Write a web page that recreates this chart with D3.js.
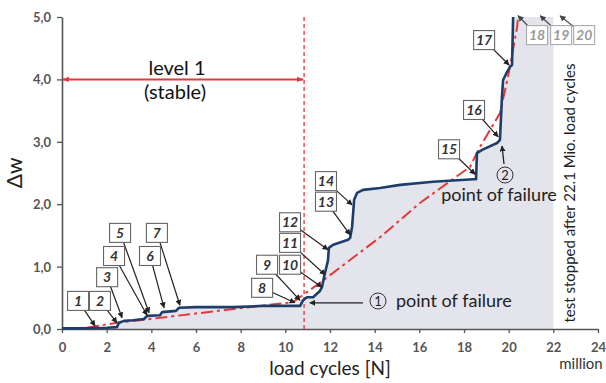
<!DOCTYPE html>
<html>
<head>
<meta charset="utf-8">
<script src="https://cdn.jsdelivr.net/npm/d3@7/dist/d3.min.js"></script>
<style>
  html, body { margin: 0; padding: 0; background: #fff; }
  svg { display: block; }
  text { font-family: Lato, "Open Sans", sans-serif; }
</style>
</head>
<body>
<svg id="chart" width="606" height="383"></svg>
<script>
// ---- data ----
const xTicks = [0, 2, 4, 6, 8, 10, 12, 14, 16, 18, 20, 22, 24];
const yTicks = [0, 1, 2, 3, 4, 5];
const yTickLabels = ["0,0", "1,0", "2,0", "3,0", "4,0", "5,0"];

// measured deformation curve (million cycles, Δw)
const curveX = [0, 1.03, 2.02, 2.46, 2.55, 2.78, 3.18, 3.67, 3.81, 4.39, 4.48, 5.10, 5.24, 6.0, 7.66, 9.0, 10.66, 10.79, 10.97, 11.24, 11.55, 11.64, 11.73, 11.91, 11.95, 12.14, 12.81, 12.9, 12.99, 13.08, 13.21, 13.48, 14.24, 15.14, 16.61, 18.41, 18.54, 18.58, 18.81, 19.48, 19.61, 19.70, 19.75, 19.93, 20.06, 20.15, 20.2];
const curveY = [0.01, 0.01, 0.02, 0.03, 0.10, 0.13, 0.14, 0.16, 0.21, 0.22, 0.27, 0.29, 0.34, 0.35, 0.35, 0.37, 0.37, 0.46, 0.51, 0.51, 0.61, 0.67, 0.83, 1.10, 1.30, 1.35, 1.43, 1.46, 1.64, 2.07, 2.18, 2.23, 2.26, 2.31, 2.36, 2.40, 2.40, 2.82, 2.87, 2.98, 3.03, 3.72, 3.99, 4.12, 4.20, 4.23, 5.0];

// red dash-dot trend line
const trendX = [1.12, 2.46, 3.94, 7.66, 10.34, 11.55, 12.32, 14.24, 16.03, 18.27, 18.72, 19.61, 19.97, 20.38, 20.42];
const trendY = [0.02, 0.10, 0.16, 0.32, 0.43, 0.74, 0.95, 1.47, 2.02, 2.60, 2.92, 3.46, 4.04, 4.84, 5.0];

const testEnd = 22;        // test stopped (shaded region end)
const level1End = 10.84;   // end of level 1 (red dashed line)
const level1Y = 4.0;

// numbered load-step annotations: label, box (x,y), arrow tip (x,y) in data units
const stepLabels = ["1","2","3","4","5","6","7","8","9","10","11","12","13","14","15","16","17","18","19","20"];
const stepBoxX = [0.72, 1.70, 2.02, 2.33, 2.60, 3.94, 4.25, 8.96, 9.18, 10.21, 10.21, 10.21, 11.82, 11.82, 17.33, 18.45, 18.90, 21.27, 22.35, 23.38];
const stepBoxY = [0.45, 0.45, 0.83, 1.17, 1.54, 1.17, 1.54, 0.66, 1.03, 1.03, 1.38, 1.71, 2.04, 2.37, 2.88, 3.51, 4.63, 4.71, 4.71, 4.71];
const stepTipX = [1.48, 2.46, 2.69, 3.81, 3.90, 4.57, 5.28, 10.43, 10.66, 11.64, 11.78, 11.91, 12.90, 12.99, 18.50, 19.53, 20.02, 20.42, 21.41, 22.30];
const stepTipY = [0.05, 0.10, 0.18, 0.22, 0.26, 0.34, 0.38, 0.42, 0.46, 0.67, 0.87, 1.27, 1.51, 1.99, 2.48, 3.08, 4.23, 5.02, 5.02, 5.02];

// ---- drawing ----
const svg = d3.select("#chart");
const x = d3.scaleLinear().domain([0, 24]).range([62, 598]);
const y = d3.scaleLinear().domain([0, 5]).range([329, 17]);

const defs = svg.append("defs");
defs.append("marker").attr("id", "arrBlack").attr("viewBox", "0 0 10 10")
  .attr("refX", 9).attr("refY", 5).attr("markerWidth", 6).attr("markerHeight", 6)
  .attr("markerUnits", "userSpaceOnUse").attr("orient", "auto")
  .append("path").attr("d", "M0,0 L10,5 L0,10 Z").attr("fill", "#222");
defs.append("marker").attr("id", "arrGray").attr("viewBox", "0 0 10 10")
  .attr("refX", 9).attr("refY", 5).attr("markerWidth", 6).attr("markerHeight", 6)
  .attr("markerUnits", "userSpaceOnUse").attr("orient", "auto")
  .append("path").attr("d", "M0,0 L10,5 L0,10 Z").attr("fill", "#444");
defs.append("marker").attr("id", "arrRed").attr("viewBox", "0 0 10 10")
  .attr("refX", 9).attr("refY", 5).attr("markerWidth", 7).attr("markerHeight", 7)
  .attr("markerUnits", "userSpaceOnUse").attr("orient", "auto-start-reverse")
  .append("path").attr("d", "M0,1 L10,5 L0,9 Z").attr("fill", "#e03a3a");

const curve = curveX.map((v, i) => [v, curveY[i]]);
const trend = trendX.map((v, i) => [v, trendY[i]]);

// shaded area under the curve until test end
const fillPts = curve.concat([[testEnd, 5.0], [testEnd, 0], [0, 0]]);
svg.append("path")
  .attr("d", d3.line().x(d => x(d[0])).y(d => y(d[1]))(fillPts) + "Z")
  .attr("fill", "#e4e4ed").attr("stroke", "none");

// axes
const axisColor = "#555";
const gx = svg.append("g").attr("transform", `translate(0,${y(0)})`)
  .call(d3.axisBottom(x).tickValues(xTicks).tickSize(4).tickSizeOuter(0).tickFormat(d3.format("d")).tickPadding(10));
const gy = svg.append("g").attr("transform", `translate(${x(0)},0)`)
  .call(d3.axisLeft(y).tickValues(yTicks).tickSize(5).tickSizeOuter(0).tickFormat((d, i) => yTickLabels[i]).tickPadding(6));
[gx, gy].forEach(g => {
  g.select(".domain").attr("stroke", axisColor).attr("stroke-width", 1.6);
  g.selectAll(".tick line").attr("stroke", axisColor).attr("stroke-width", 1.3);
  g.selectAll(".tick text").attr("fill", "#555").attr("font-size", 13).attr("font-weight", 700)
    .style("font-family", "Lato, sans-serif");
});
gx.selectAll(".tick text").attr("dy", "0.71em");
gy.selectAll(".tick text").attr("dy", "0.34em");

// red level-1 dashed vertical
svg.append("line").attr("x1", x(level1End)).attr("x2", x(level1End))
  .attr("y1", y(5)).attr("y2", y(0))
  .attr("stroke", "#e04545").attr("stroke-width", 1.4).attr("stroke-dasharray", "4,3");

// red level-1 arrow
svg.append("line").attr("x1", x(0) + 1).attr("x2", x(level1End) - 1)
  .attr("y1", y(level1Y)).attr("y2", y(level1Y))
  .attr("stroke", "#e03a3a").attr("stroke-width", 2)
  .attr("marker-start", "url(#arrRed)").attr("marker-end", "url(#arrRed)");

svg.append("text").attr("x", 177).attr("y", 75).attr("text-anchor", "middle")
  .attr("font-size", 20).attr("fill", "#111").text("level 1");
svg.append("text").attr("x", 175).attr("y", 99).attr("text-anchor", "middle")
  .attr("font-size", 20).attr("fill", "#111").text("(stable)");

// red trend line
svg.append("path")
  .attr("d", d3.line().x(d => x(d[0])).y(d => y(d[1]))(trend))
  .attr("fill", "none").attr("stroke", "#e03a3a").attr("stroke-width", 2)
  .attr("stroke-dasharray", "12,4,3,4");

// blue measured curve
svg.append("path")
  .attr("d", d3.line().x(d => x(d[0])).y(d => y(d[1]))(curve))
  .attr("fill", "none").attr("stroke", "#1d3e6b").attr("stroke-width", 2.6)
  .attr("stroke-linejoin", "round");

// leader lines
const steps = stepLabels.map((l, i) => ({
  label: l, bx: x(stepBoxX[i]), by: y(stepBoxY[i]), tx: x(stepTipX[i]), ty: y(stepTipY[i]), faded: i >= 17
}));
svg.append("g").selectAll("line").data(steps).join("line")
  .attr("x1", d => d.bx).attr("y1", d => d.by).attr("x2", d => d.tx).attr("y2", d => d.ty)
  .attr("stroke", d => d.faded ? "#444" : "#222").attr("stroke-width", 1.2)
  .attr("marker-end", d => d.faded ? "url(#arrGray)" : "url(#arrBlack)");

// boxes
const bw = 21, bh = 19;
const boxes = svg.append("g").selectAll("g").data(steps).join("g");
boxes.append("rect")
  .attr("x", d => d.bx - bw / 2).attr("y", d => d.by - bh / 2).attr("width", bw).attr("height", bh)
  .attr("fill", "#fff").attr("stroke", d => d.faded ? "#aaa" : "#666").attr("stroke-width", 1.1);
boxes.append("text")
  .attr("x", d => d.bx).attr("y", d => d.by + 5).attr("text-anchor", "middle")
  .attr("font-size", 14).attr("font-style", "italic").attr("font-weight", 700)
  .attr("fill", d => d.faded ? "#999" : "#333").text(d => d.label);

// point of failure 1
svg.append("line").attr("x1", x(13.48)).attr("x2", x(11.1)).attr("y1", y(0.42)).attr("y2", y(0.42))
  .attr("stroke", "#222").attr("stroke-width", 1.3).attr("marker-end", "url(#arrBlack)");
svg.append("circle").attr("cx", 378).attr("cy", 301).attr("r", 8)
  .attr("fill", "none").attr("stroke", "#333").attr("stroke-width", 1);
svg.append("text").attr("x", 378).attr("y", 306).attr("text-anchor", "middle")
  .attr("font-size", 13).attr("fill", "#222").text("1");
svg.append("text").attr("x", 396).attr("y", 307).attr("font-size", 18).attr("fill", "#222")
  .text("point of failure");

// point of failure 2
svg.append("line").attr("x1", 504).attr("x2", 502).attr("y1", 164).attr("y2", 146)
  .attr("stroke", "#222").attr("stroke-width", 1.3).attr("marker-end", "url(#arrBlack)");
svg.append("circle").attr("cx", 505).attr("cy", 175).attr("r", 8)
  .attr("fill", "none").attr("stroke", "#333").attr("stroke-width", 1);
svg.append("text").attr("x", 505).attr("y", 180).attr("text-anchor", "middle")
  .attr("font-size", 13).attr("fill", "#222").text("2");
svg.append("text").attr("x", 499).attr("y", 201).attr("text-anchor", "middle").attr("font-size", 18).attr("fill", "#222")
  .text("point of failure");

// test stopped text
svg.append("text").attr("transform", "translate(575,193) rotate(-90)").attr("text-anchor", "middle")
  .attr("font-size", 15).attr("fill", "#222").text("test stopped after 22.1 Mio. load cycles");

// axis titles
svg.append("text").attr("x", 330).attr("y", 375).attr("text-anchor", "middle")
  .attr("font-size", 19).attr("fill", "#222").text("load cycles [N]");
svg.append("text").attr("x", 581).attr("y", 369).attr("text-anchor", "middle")
  .attr("font-size", 15).attr("fill", "#333").text("million");
svg.append("text").attr("transform", "translate(22,173) rotate(-90)").attr("text-anchor", "middle")
  .attr("font-size", 21).attr("fill", "#222").text("Δw");
</script>
</body>
</html>
